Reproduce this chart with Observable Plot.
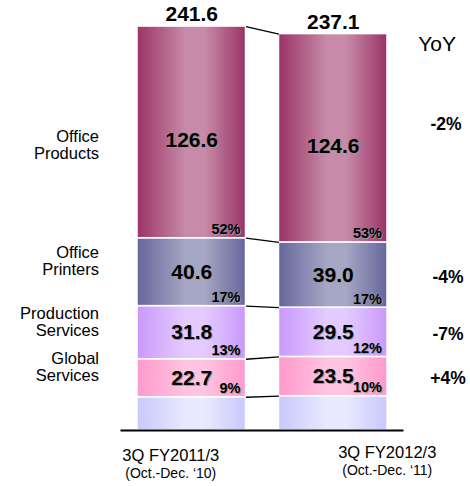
<!DOCTYPE html>
<html><head><meta charset="utf-8">
<script src="https://cdn.jsdelivr.net/npm/d3@7"></script>
<script src="https://cdn.jsdelivr.net/npm/@observablehq/plot@0.6"></script>
<style>body{margin:0;background:#fff}</style>
</head><body><div id="chart"></div>
<script>
const periods = ["3Q FY2011/3", "3Q FY2012/3"];
const periodNotes = ["(Oct.-Dec. \u201810)", "(Oct.-Dec. \u201811)"];
const segments = ["Other", "Global Services", "Production Services", "Office Printers", "Office Products"];
const segmentLabels = ["", "Global\nServices", "Production\nServices", "Office\nPrinters", "Office\nProducts"];
const sales2011 = [19.9, 22.7, 31.8, 40.6, 126.6];
const sales2012 = [20.5, 23.5, 29.5, 39.0, 124.6];
const share2011 = ["", "9%", "13%", "17%", "52%"];
const share2012 = ["", "10%", "12%", "17%", "53%"];
const totals = [241.6, 237.1];
const yoyLabels = ["", "+4%", "-7%", "-4%", "-2%"];

// gradient palette (edge colour, centre colour) per segment
const palette = [
  ["#c8c8fc", "#e9e9ff"],
  ["#ff99cc", "#ffc4e1"],
  ["#c999fb", "#e4cbff"],
  ["#66679a", "#a6a6c5"],
  ["#9b3366", "#c78ba9"]
];

const FONT = "'Liberation Sans', Arial, Helvetica, sans-serif";
const PAD = 0.1166;

const series = [sales2011, sales2012];
const shares = [share2011, share2012];
const rows = [];
series.forEach((vals, p) => {
  let acc = 0;
  vals.forEach((v, k) => {
    rows.push({p, k, seg: segments[k], value: v, y1: acc, y2: acc + v, share: shares[p][k], label: segmentLabels[k], yoy: yoyLabels[k]});
    acc += v;
  });
});
const mid = d => (d.y1 + d.y2) / 2;
const r0 = rows.filter(d => d.p === 0);
const r1 = rows.filter(d => d.p === 1);
const links = [1, 2, 3, 4].map(k => ({a: r0[k].y1, b: r1[k].y1})).concat([{a: totals[0], b: totals[1]}]);
const totalRows = totals.map((t, p) => ({p, t}));
const labeled = rows.filter(d => d.k > 0);
const isTop = d => d.k === segments.length - 1;

const valueOpts = (data, dy, fill, sh) => Plot.text(data, {
  x: d => d.p + 0.5, y: mid, text: d => d.value.toFixed(1),
  fontSize: 21, fontWeight: "bold", fill, dx: sh, dy: dy + sh
});
const shareOpts = (fill, sh) => Plot.text(labeled, {
  x: d => d.p + 1 - PAD, y: "y1", text: "share", dx: -5.5 + sh, dy: -4 + sh,
  textAnchor: "end", lineAnchor: "bottom", fontSize: 14.5, fontWeight: "bold", fill
});

const chart = Plot.plot({
  width: 470, height: 486,
  marginTop: 12, marginBottom: 56, marginLeft: 120.5, marginRight: 66.5,
  x: {domain: [0, 2], axis: null},
  y: {domain: [0, 250], axis: null},
  style: {fontFamily: FONT, background: "#fff", overflow: "visible"},
  marks: [
    ...segments.map((s, k) => Plot.rect(rows.filter(d => d.k === k), {
      x1: d => d.p + PAD, x2: d => d.p + 1 - PAD, y1: "y1", y2: "y2",
      fill: `url(#grad${k})`, stroke: "#fff", strokeWidth: 1.5
    })),
    Plot.link(links, {x1: () => 1 - PAD, x2: () => 1 + PAD, y1: "a", y2: "b", stroke: "#000", strokeWidth: 1.3}),
    Plot.ruleY([0], {stroke: "#000", strokeWidth: 1.8}),
    // value labels with shadow
    valueOpts(labeled.filter(d => !isTop(d)), 0, "#9a9a9a", 1),
    valueOpts(labeled.filter(isTop), 8, "#9a9a9a", 1),
    valueOpts(labeled.filter(d => !isTop(d)), 0, "#000", 0),
    valueOpts(labeled.filter(isTop), 8, "#000", 0),
    shareOpts("#9a9a9a", 0.8),
    shareOpts("#000", 0),
    // totals
    Plot.text(totalRows, {x: d => d.p + 0.5, y: "t", text: d => d.t.toFixed(1), dy: -5.5,
      lineAnchor: "bottom", fontSize: 21, fontWeight: "bold", fill: "#000"}),
    // category labels on the left
    Plot.text(r0.filter(d => d.k > 0 && !isTop(d)), {x: () => 0, y: mid, text: "label", dx: -22, dy: -11,
      textAnchor: "end", fontSize: 16.5, lineHeight: 1.02, fill: "#000"}),
    Plot.text(r0.filter(isTop), {x: () => 0, y: mid, text: "label", dx: -22, dy: 13,
      textAnchor: "end", fontSize: 16.5, lineHeight: 1.02, fill: "#000"}),
    // YoY
    Plot.text(["YoY"], {frameAnchor: "top-right", dx: 33, dy: 23.5, fontSize: 21, textAnchor: "middle", fill: "#000"}),
    Plot.text(r1.filter(d => d.k > 0 && !isTop(d)), {x: () => 2, y: mid, text: "yoy", dx: 44, dy: 2,
      fontSize: 17.5, fontWeight: "bold", textAnchor: "middle", fill: "#000"}),
    Plot.text(r1.filter(isTop), {x: () => 2, y: mid, text: "yoy", dx: 42, dy: -13.5,
      fontSize: 17.5, fontWeight: "bold", textAnchor: "middle", fill: "#000"}),
    // period labels
    Plot.text([0], {x: () => 0.5, y: () => 0, text: () => periods[0], dx: -21, dy: 25, fontSize: 16.5, fill: "#000"}),
    Plot.text([0], {x: () => 0.5, y: () => 0, text: () => periodNotes[0], dx: -21, dy: 43, fontSize: 14, fill: "#000"}),
    Plot.text([0], {x: () => 1.5, y: () => 0, text: () => periods[1], dx: 54, dy: 22, fontSize: 16.5, fill: "#000"}),
    Plot.text([0], {x: () => 1.5, y: () => 0, text: () => periodNotes[1], dx: 54, dy: 40, fontSize: 14, fill: "#000"})
  ]
});

// gradients
const ns = "http://www.w3.org/2000/svg";
const defs = document.createElementNS(ns, "defs");
palette.forEach(([edge, light], k) => {
  const g = document.createElementNS(ns, "linearGradient");
  g.setAttribute("id", `grad${k}`);
  g.setAttribute("x1", "0"); g.setAttribute("x2", "1"); g.setAttribute("y1", "0"); g.setAttribute("y2", "0");
  [[0, edge], [0.45, light], [0.62, light], [1, edge]].forEach(([o, c]) => {
    const s = document.createElementNS(ns, "stop");
    s.setAttribute("offset", o);
    s.setAttribute("stop-color", c);
    g.appendChild(s);
  });
  defs.appendChild(g);
});
chart.insertBefore(defs, chart.firstChild);
document.getElementById("chart").appendChild(chart);
</script>
</body></html>
